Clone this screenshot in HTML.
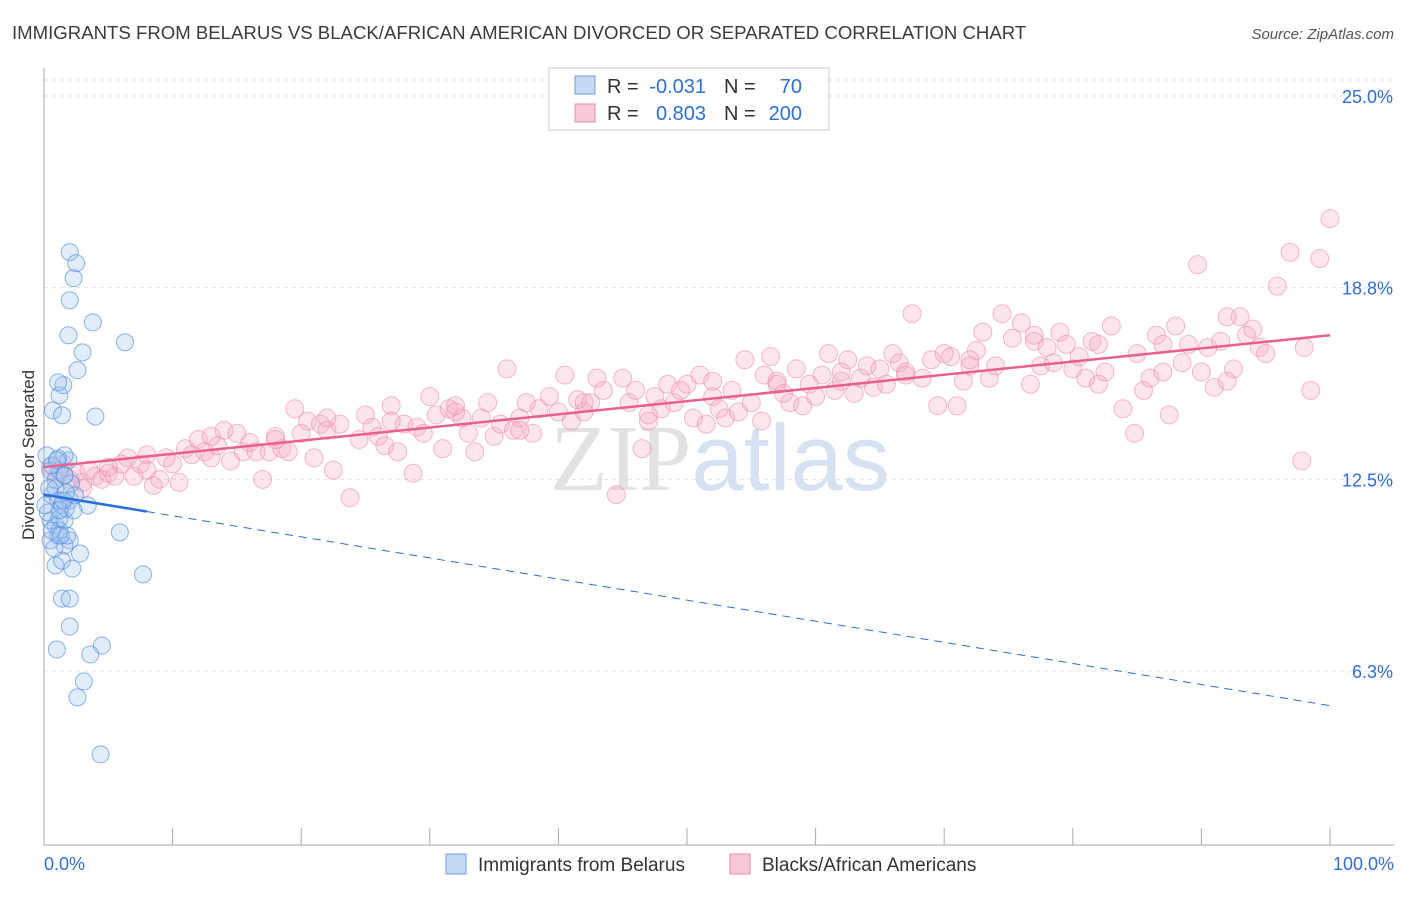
<!DOCTYPE html>
<html><head><meta charset="utf-8"><style>
body{margin:0;background:#fff;font-family:"Liberation Sans",sans-serif;}
svg text{font-family:"Liberation Sans",sans-serif;}
</style></head><body>
<svg id="chart" width="1406" height="892" xmlns="http://www.w3.org/2000/svg">
<text x="12" y="39" font-size="18.6" fill="#3b3b3b">IMMIGRANTS FROM BELARUS VS BLACK/AFRICAN AMERICAN DIVORCED OR SEPARATED CORRELATION CHART</text>
<text x="1394" y="39" font-size="15" fill="#555" text-anchor="end" font-style="italic">Source: ZipAtlas.com</text>
<text x="720" y="490" font-size="94" text-anchor="middle"><tspan fill="#e2e2e2" font-family="Liberation Serif">ZIP</tspan><tspan fill="#d6e2f2">atlas</tspan></text>
<g id="grid"></g>
<g id="axes"></g>
<g id="pts"></g>
<g id="lines"></g>
<text transform="translate(34,455) rotate(-90)" font-size="17" fill="#333" text-anchor="middle">Divorced or Separated</text>
<g>
<rect x="549" y="68" width="280" height="62" fill="#fff" stroke="#ccc"/>
<rect x="575" y="76" width="20" height="18" fill="#c5d9f5" stroke="#6b9de0"/>
<rect x="575" y="104" width="20" height="18" fill="#f9c8d7" stroke="#ea8cab"/>
<text x="607" y="93" font-size="20" fill="#333">R =</text>
<text x="706" y="93" font-size="20" fill="#2f6fd6" text-anchor="end">-0.031</text>
<text x="724" y="93" font-size="20" fill="#333">N =</text>
<text x="802" y="93" font-size="20" fill="#2f6fd6" text-anchor="end">70</text>
<text x="607" y="120" font-size="20" fill="#333">R =</text>
<text x="706" y="120" font-size="20" fill="#2f6fd6" text-anchor="end">0.803</text>
<text x="724" y="120" font-size="20" fill="#333">N =</text>
<text x="802" y="120" font-size="20" fill="#2f6fd6" text-anchor="end">200</text>
</g>
<g>
<rect x="446" y="854" width="20" height="20" fill="#c5d9f5" stroke="#6b9de0"/>
<text x="478" y="871" font-size="19" fill="#333">Immigrants from Belarus</text>
<rect x="730" y="854" width="20" height="20" fill="#f9c8d7" stroke="#ea8cab"/>
<text x="762" y="871" font-size="19" fill="#333">Blacks/African Americans</text>
</g>
</svg>
<script>
const yTicks=[25.0,18.75,12.5,6.25];
const yTickLabels=["25.0%","18.8%","12.5%","6.3%"];
const xTickValues=[0,10,20,30,40,50,60,70,80,90,100];
const xEndLabels=["0.0%","100.0%"];
const blueTrend=[12.0,5.12];
const pinkTrend=[12.9,17.2];
const blueX=[0.2,0.5,0.9,1.2,1.6,0.6,1.1,1.4,2.0,2.4,3.4,0.5,0.9,1.2,1.6,2.0,0.5,1.1,1.6,0.9,1.4,2.2,2.8,1.9,1.6,0.7,1.4,1.2,1.5,1.1,1.9,3.0,2.6,3.8,2.0,2.3,2.0,2.5,4.0,6.3,5.9,7.7,1.4,2.0,2.0,1.0,4.5,3.6,3.1,2.6,4.4,0.3,0.6,0.9,1.2,1.7,2.1,0.8,1.6,1.1,1.7,0.6,1.2,2.3,1.5,1.8,0.1,0.4,1.0,1.3];
const blueY=[13.28,12.79,12.47,12.79,12.63,11.98,11.81,11.65,11.81,11.98,11.65,11.16,11.0,10.83,11.16,10.51,10.51,10.67,10.34,9.69,9.85,9.59,10.08,13.12,13.28,14.75,14.59,15.24,15.57,15.66,17.2,16.64,16.06,17.62,18.34,19.06,19.91,19.55,14.55,16.97,10.77,9.4,8.61,8.61,7.7,6.95,7.08,6.79,5.91,5.39,3.53,11.42,12.96,12.21,11.23,11.55,12.37,10.25,12.63,13.18,12.07,10.83,11.49,11.49,11.81,10.67,11.65,12.21,13.12,10.67];
const pinkX=[0.5,1,1.5,2,2.5,3,3.5,4,4.5,5,5.5,6,6.5,7,7.5,8,8.5,9,9.5,10,10.5,11,11.5,12,12.5,13,13.5,14,14.5,15,15.5,16,16.5,17,17.5,18,18.5,19,19.5,20,20.5,21,21.5,22,22.5,23,23.8,24.5,25,25.5,26,26.5,27,27.5,28,28.7,29,29.5,30,30.5,31,31.5,32,32.5,33,33.5,34,34.5,35,35.5,36,36.5,37,37.5,38,38.5,39.3,40,40.5,41,41.5,42,42.5,43,43.5,44.5,45,45.5,46,46.5,47,47.5,48,48.5,49,49.5,50,50.5,51,51.5,52,52.5,53,53.5,54,54.5,55,55.8,56,56.5,57,57.5,58,58.5,59,59.5,60,60.5,61,61.5,62,62.5,63,63.5,64,64.5,65,65.5,66,66.5,67,67.5,68.3,69,69.5,70,70.5,71,71.5,72,72.5,73,73.5,74,74.5,75.3,76,76.7,77,77.5,78,78.5,79,79.5,80,80.5,81,81.5,82,82.5,83,83.9,84.8,85,85.5,86,86.5,87,87.5,88,88.5,89,89.7,90,90.5,91,91.5,92,92.5,93,93.5,94,94.5,95,95.9,96.9,97.8,98,98.5,99.2,100,3,5,8,13,18,22,27,32,37,42,47,52,57,62,67,72,77,82,87,92];
const pinkY=[12.9,12.6,13.0,12.5,12.7,12.4,12.8,12.6,12.5,12.7,12.6,13.0,13.2,12.6,13.0,13.3,12.3,12.5,13.2,13.0,12.4,13.5,13.3,13.8,13.4,13.2,13.6,14.1,13.1,14.0,13.4,13.7,13.4,12.5,13.4,13.9,13.5,13.4,14.8,14.0,14.4,13.2,14.3,14.1,12.8,14.3,11.9,13.8,14.6,14.2,13.9,13.6,14.9,13.4,14.3,12.7,14.2,14.0,15.2,14.6,13.5,14.8,14.7,14.5,14.0,13.4,14.5,15.0,13.9,14.3,16.1,14.1,14.5,15.0,14.0,14.8,15.2,14.7,15.9,14.4,15.1,14.7,15.0,15.8,15.4,12.0,15.8,15.0,15.4,13.5,14.4,15.2,14.8,15.6,15.0,15.4,15.6,14.5,15.9,14.3,15.2,14.8,14.5,15.4,14.7,16.4,15.0,14.4,15.9,16.5,15.6,15.3,15.0,16.1,14.9,15.6,15.2,15.9,16.6,15.4,15.7,16.4,15.3,15.8,16.2,15.5,16.1,15.6,16.6,16.3,16.0,17.9,15.8,16.4,14.9,16.6,16.5,14.9,15.7,16.2,16.7,17.3,15.8,16.2,17.9,17.1,17.6,15.6,17.0,16.2,16.8,16.3,17.3,16.9,16.1,16.5,15.8,17.0,15.6,16.0,17.5,14.8,14.0,16.6,15.4,15.8,17.2,16.0,14.6,17.5,16.3,16.9,19.5,16.0,16.8,15.5,17.0,15.7,16.1,17.8,17.2,17.4,16.8,16.6,18.8,19.9,13.1,16.8,15.4,19.7,21.0,12.2,12.9,12.8,13.9,13.8,14.5,14.4,14.9,14.1,15.0,14.6,15.7,15.7,16.0,15.9,16.4,17.2,16.9,16.9,17.8];
const X0=44,X1=1330,YT=96,YB=671;
function sx(v){return X0+(X1-X0)*v/100;}
function sy(v){return YT+(25-v)*(YB-YT)/18.75;}
const NS="http://www.w3.org/2000/svg";
function mk(tag,attrs,parent){const e=document.createElementNS(NS,tag);for(const k in attrs)e.setAttribute(k,attrs[k]);parent.appendChild(e);return e;}
const grid=document.getElementById('grid'),axes=document.getElementById('axes'),pts=document.getElementById('pts'),lines=document.getElementById('lines');
let t=mk('line',{x1:44,x2:1394,y1:80,y2:80,stroke:'#e2e2e2','stroke-dasharray':'4,4'},grid);


yTicks.forEach((v,i)=>{
 const g=mk('line',{x1:44,x2:1394,y1:sy(v),y2:sy(v),stroke:'#e2e2e2','stroke-dasharray':'4,4'},grid);
 
 
 const tx=mk('text',{x:1393,y:sy(v)+7,'font-size':18,fill:'#2f6fd6','text-anchor':'end'},axes);
 tx.textContent=yTickLabels[i];
 
 
});
let a=mk('line',{x1:44,x2:44,y1:68,y2:845,stroke:'#aaa'},axes);


a=mk('line',{x1:44,x2:1394,y1:845,y2:845,stroke:'#aaa'},axes);


xTickValues.forEach(v=>{
 const tk=mk('line',{x1:sx(v),x2:sx(v),y1:828,y2:845,stroke:'#aaa'},axes);
 
 
});
let l0=mk('text',{x:44,y:870,'font-size':18,fill:'#2f6fd6'},axes);l0.textContent=xEndLabels[0];


let l1=mk('text',{x:1394,y:870,'font-size':18,fill:'#2f6fd6','text-anchor':'end'},axes);l1.textContent=xEndLabels[1];


pinkX.forEach((x,i)=>{
 const c=mk('circle',{cx:sx(x),cy:sy(pinkY[i]),r:9,fill:'rgba(246,170,196,0.3)',stroke:'rgba(236,140,172,0.6)','stroke-width':1},pts);
 
 
});
blueX.forEach((x,i)=>{
 const c=mk('circle',{cx:sx(x),cy:sy(blueY[i]),r:8.5,fill:'rgba(160,196,240,0.3)',stroke:'rgba(80,140,220,0.65)','stroke-width':1},pts);
 
 
});
function at(tr,x){return tr[0]+(tr[1]-tr[0])*x/100;}
let pl=mk('line',{x1:sx(0),y1:sy(at(pinkTrend,0)),x2:sx(100),y2:sy(at(pinkTrend,100)),stroke:'#e8608e','stroke-width':2.5},lines);


let bl=mk('line',{x1:sx(0),y1:sy(at(blueTrend,0)),x2:sx(8),y2:sy(at(blueTrend,8)),stroke:'#2a6fd8','stroke-width':2.5},lines);


let bd=mk('line',{x1:sx(8),y1:sy(at(blueTrend,8)),x2:sx(100),y2:sy(at(blueTrend,100)),stroke:'#2a6fd8','stroke-width':1,'stroke-dasharray':'8,6'},lines);


</script>
</body></html>
